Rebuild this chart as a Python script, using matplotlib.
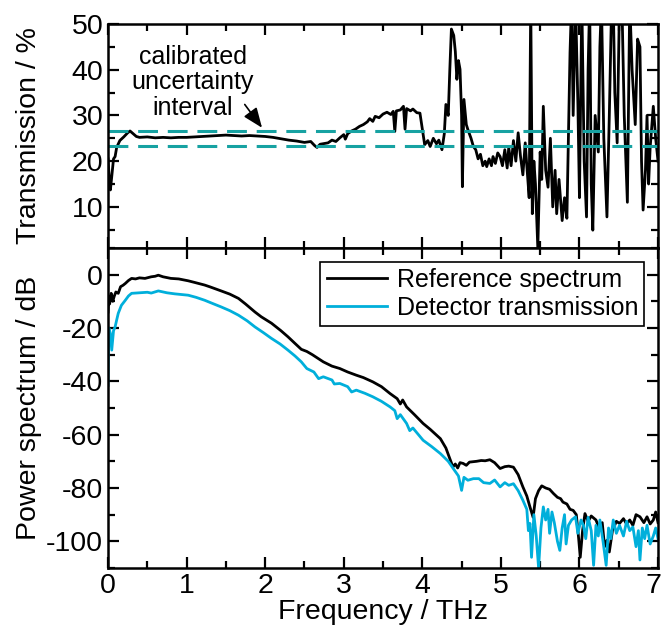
import matplotlib
matplotlib.use("Agg")
import matplotlib.pyplot as plt
from matplotlib.ticker import MultipleLocator
from matplotlib.transforms import ScaledTranslation

plt.rcParams["font.family"] = ["Liberation Sans", "DejaVu Sans"]
plt.rcParams["axes.unicode_minus"] = False

# transmission (top panel)
trans_freq = [
    0.00, 0.02, 0.03, 0.05, 0.07, 0.09, 0.11, 0.15, 0.20, 0.25, 0.28, 0.32, 0.36, 0.40,
    0.50, 0.60, 0.70, 0.80, 0.90, 1.00, 1.10, 1.20, 1.30, 1.40, 1.50, 1.60, 1.70, 1.80,
    1.90, 2.00, 2.10, 2.20, 2.30, 2.40, 2.50, 2.58, 2.63, 2.66, 2.70, 2.80, 2.85, 2.90,
    2.95, 3.00, 3.02, 3.05, 3.10, 3.15, 3.20, 3.25, 3.30, 3.33, 3.37, 3.40, 3.45, 3.50,
    3.55, 3.60, 3.63, 3.65, 3.67, 3.72, 3.76, 3.78, 3.80, 3.85, 3.88, 3.93, 3.97, 4.00,
    4.03, 4.07, 4.10, 4.14, 4.18, 4.21, 4.25, 4.28, 4.30, 4.33, 4.35, 4.37, 4.40, 4.42,
    4.44, 4.46, 4.48, 4.50, 4.51, 4.53, 4.56, 4.58, 4.62, 4.65, 4.68, 4.71, 4.74, 4.77,
    4.80, 4.82, 4.85, 4.88, 4.90, 4.93, 4.96, 4.99, 5.02, 5.05, 5.08, 5.10, 5.13, 5.16,
    5.19, 5.22, 5.25, 5.28, 5.31, 5.33, 5.36, 5.38, 5.40, 5.42, 5.44, 5.47, 5.50, 5.52,
    5.54, 5.57, 5.60, 5.63, 5.66, 5.69, 5.71, 5.74, 5.78, 5.81, 5.84, 5.88, 5.90, 5.92,
    5.95, 5.98, 6.00, 6.03, 6.06, 6.09, 6.11, 6.13, 6.15, 6.17, 6.20, 6.24, 6.26, 6.28,
    6.31, 6.35, 6.38, 6.41, 6.43, 6.45, 6.48, 6.51, 6.54, 6.57, 6.61, 6.64, 6.67, 6.71,
    6.74, 6.77, 6.79, 6.81, 6.84, 6.86, 6.88, 6.90, 6.94, 6.97, 7.00,
]
trans_pct = [
    20.5, 15.0, 13.7, 17.0, 20.5, 21.0, 23.0, 24.5, 25.3, 26.2, 26.6, 26.0, 25.4, 25.2,
    25.3, 25.1, 25.2, 25.1, 25.2, 25.2, 25.3, 25.4, 25.5, 25.6, 25.7, 25.6, 25.5, 25.6,
    25.5, 25.4, 25.2, 24.9, 24.6, 24.4, 24.1, 24.3, 23.4, 23.0, 23.7, 24.0, 24.6, 24.3,
    25.1, 25.8, 24.8, 26.0, 26.6, 27.0, 27.6, 28.0, 28.6, 29.3, 28.7, 29.8, 29.5, 30.3,
    30.7, 30.2, 30.9, 26.5, 31.0, 31.2, 32.0, 27.0, 31.5, 31.0, 31.4, 30.6, 30.5, 27.0,
    23.6, 24.5, 23.2, 25.0, 23.8, 24.6, 22.5, 26.0, 32.4, 30.0, 40.0, 48.9, 47.5, 44.0,
    37.9, 42.0, 40.1, 30.0, 14.4, 33.5, 28.0, 26.9, 25.0, 23.2, 22.5, 20.5, 21.5, 19.0,
    20.0, 18.8, 20.5, 19.0, 21.0, 19.5, 21.8, 21.0, 19.0, 22.5, 18.5, 23.0, 19.0, 24.5,
    20.0, 26.2, 21.0, 17.0, 24.0, 19.0, 12.0, 55.0, 8.5, 20.0, 15.0, 1.0, 22.0, 16.0,
    32.0, 18.0, 14.3, 25.0, 10.0, 18.0, 8.5, 16.0, 7.0, 12.0, 7.5, 43.8, 55.0, 30.0,
    55.0, 32.5, 12.0, 55.0, 20.0, 7.8, 40.0, 55.0, 15.0, 4.9, 30.0, 22.0, 45.0, 55.0,
    25.0, 7.8, 30.0, 55.0, 55.0, 35.0, 24.0, 55.0, 55.0, 30.0, 11.0, 55.0, 40.0, 28.0,
    46.7, 45.0, 20.0, 9.3, 18.0, 30.0, 15.0, 23.0, 32.0, 25.0, 20.0,
]
band_upper = 26.5
band_lower = 23.4

# power spectra (bottom panel)
ref_freq = [
    0.00, 0.01, 0.02, 0.04, 0.06, 0.08, 0.10, 0.13, 0.16, 0.19, 0.22, 0.26, 0.30, 0.35,
    0.40, 0.47, 0.55, 0.60, 0.64, 0.70, 0.80, 0.90, 1.02, 1.10, 1.23, 1.30, 1.44, 1.55,
    1.66, 1.75, 1.87, 1.95, 2.08, 2.20, 2.29, 2.38, 2.46, 2.53, 2.60, 2.74, 2.85, 2.95,
    3.05, 3.16, 3.25, 3.37, 3.48, 3.59, 3.68, 3.72, 3.75, 3.80, 3.90, 4.01, 4.10, 4.23,
    4.30, 4.35, 4.39, 4.42, 4.45, 4.48, 4.52, 4.56, 4.60, 4.69, 4.75, 4.80, 4.86, 4.92,
    4.99, 5.05, 5.10, 5.16, 5.22, 5.28, 5.33, 5.37, 5.41, 5.44, 5.48, 5.52, 5.57, 5.62,
    5.67, 5.72, 5.76, 5.79, 5.84, 5.88, 5.92, 5.96, 5.99, 6.01, 6.04, 6.07, 6.11, 6.15,
    6.21, 6.25, 6.29, 6.32, 6.35, 6.38, 6.42, 6.47, 6.51, 6.56, 6.60, 6.64, 6.68, 6.72,
    6.77, 6.82, 6.86, 6.90, 6.94, 6.97, 7.00,
]
ref_db = [
    -14.0, -8.0, -11.0, -7.0, -10.0, -8.0, -6.5, -7.0, -4.5, -4.0, -3.3, -2.2, -1.4, -1.6,
    -1.2, -1.4, -0.8, -0.6, -0.2, -0.8, -1.4, -1.6, -2.3, -2.9, -3.9, -4.6, -6.1, -7.3,
    -8.9, -11.0, -14.0, -15.8, -18.2, -21.0, -23.3, -25.8, -28.0, -28.8, -30.0, -32.7, -34.3, -35.2,
    -36.5, -37.7, -38.6, -40.2, -42.0, -44.6, -46.5, -48.5, -47.0, -49.6, -52.5, -55.8, -58.0, -61.5,
    -65.0, -69.0, -72.1, -71.0, -72.5, -70.5, -70.8, -71.5, -70.3, -70.0, -69.7, -69.8, -69.4, -70.5,
    -72.7, -72.0, -71.8, -72.2, -75.0, -79.6, -83.0, -87.1, -91.0, -84.0, -81.0, -79.2, -80.0, -80.5,
    -82.1, -83.5, -84.0, -85.3, -86.0, -88.0, -88.4, -90.0, -99.0, -106.0, -96.0, -89.6, -92.5, -90.5,
    -92.0, -95.0, -93.0, -102.0, -99.6, -104.0, -96.0, -92.5, -93.3, -91.5, -93.5, -92.0, -94.0, -90.0,
    -90.8, -93.0, -90.8, -93.5, -92.0, -89.0, -93.0,
]

det_freq = [
    0.00, 0.01, 0.03, 0.047, 0.07, 0.09, 0.11, 0.13, 0.17, 0.22, 0.26, 0.30, 0.40, 0.50,
    0.55, 0.64, 0.75, 0.85, 1.02, 1.12, 1.23, 1.33, 1.44, 1.55, 1.66, 1.77, 1.87, 1.98,
    2.08, 2.19, 2.29, 2.38, 2.46, 2.53, 2.62, 2.68, 2.74, 2.85, 2.88, 2.95, 3.05, 3.10,
    3.16, 3.27, 3.37, 3.48, 3.59, 3.65, 3.68, 3.72, 3.80, 3.84, 3.88, 4.01, 4.12, 4.23,
    4.33, 4.41, 4.46, 4.50, 4.53, 4.58, 4.65, 4.72, 4.78, 4.86, 4.92, 4.99, 5.05, 5.10,
    5.16, 5.22, 5.28, 5.33, 5.35, 5.37, 5.39, 5.42, 5.45, 5.48, 5.51, 5.54, 5.57, 5.60,
    5.62, 5.65, 5.68, 5.72, 5.75, 5.78, 5.81, 5.83, 5.86, 5.90, 5.95, 5.98, 6.02, 6.05,
    6.08, 6.11, 6.15, 6.18, 6.21, 6.24, 6.26, 6.30, 6.34, 6.37, 6.40, 6.43, 6.47, 6.51,
    6.56, 6.60, 6.64, 6.68, 6.72, 6.75, 6.77, 6.80, 6.83, 6.86, 6.90, 6.94, 6.97, 7.00,
]
det_db = [
    -41.5, -20.0, -22.0, -28.3, -21.0, -19.6, -17.0, -14.5, -11.5, -9.6, -8.0, -7.0, -6.8, -6.6,
    -6.9, -6.1, -6.8, -7.2, -7.7, -8.5, -9.6, -10.8, -12.1, -13.5, -15.2, -17.3, -19.6, -21.8,
    -23.9, -26.0, -28.3, -30.5, -32.7, -35.2, -36.5, -39.0, -38.3, -39.5, -41.0, -40.8, -42.0, -44.0,
    -43.3, -44.5, -45.8, -47.5, -49.6, -51.0, -54.0, -52.5, -55.8, -58.5, -57.5, -62.1, -64.5, -67.1,
    -70.0, -73.4, -75.5, -80.9, -76.0, -77.1, -76.5, -76.5, -78.0, -78.3, -77.0, -79.6, -78.0, -79.0,
    -78.4, -81.0, -84.6, -88.0, -96.0, -93.3, -106.0, -90.0, -98.0, -110.0, -95.0, -87.1, -92.0, -88.0,
    -97.0, -89.0, -93.0, -100.0, -103.4, -95.0, -90.0, -101.0, -94.0, -92.0, -90.8, -97.0, -92.0, -94.0,
    -99.0, -91.0, -96.0, -109.0, -94.0, -98.0, -92.0, -100.0, -109.0, -95.0, -99.0, -92.0, -97.0, -94.0,
    -98.0, -92.5, -96.0, -94.6, -102.0, -96.0, -107.0, -95.0, -99.0, -94.0, -101.0, -98.0, -95.0, -99.0,
]

TEAL = "#17a2a2"
BLUE = "#00afdb"
FS = 20.5


def style_axis(ax):
    ax.tick_params(which="both", direction="in", top=True, right=True, width=1.6, labelsize=FS)
    ax.tick_params(which="major", length=8)
    ax.tick_params(which="minor", length=5)
    for sp in ax.spines.values():
        sp.set_linewidth(1.8)
    ax.set_xticks(range(8))
    ax.xaxis.set_minor_locator(MultipleLocator(0.5))
    ax.set_xlim(0, 7)
    ax.yaxis.set_label_coords(-0.12, 0.5)


fig = plt.figure(figsize=(6.64, 6.32), dpi=100)
ax_t = fig.add_axes([0.1627, 0.6076, 0.8283, 0.3544])
ax_b = fig.add_axes([0.1627, 0.1013, 0.8283, 0.5063])

# top: transmission
ax_t.plot(trans_freq, trans_pct, color="black", lw=2.0)
ax_t.axhline(band_upper, color=TEAL, lw=2.2, dashes=(6.5, 3.2))
ax_t.axhline(band_lower, color=TEAL, lw=2.2, dashes=(6.5, 3.2))
ax_t.set_ylim(1, 50)
ax_t.yaxis.set_major_locator(MultipleLocator(10))
ax_t.yaxis.set_minor_locator(MultipleLocator(5))
ax_t.set_ylabel("Transmission / %", fontsize=FS)
style_axis(ax_t)
ax_t.tick_params(labelbottom=False)
ax_t.text(1.08, 37.3, "calibrated\nuncertainty\ninterval", ha="center", va="center",
          fontsize=18, linespacing=1.08)
ax_t.annotate("", xy=(1.96, 27.3), xytext=(1.74, 32.4),
              arrowprops=dict(arrowstyle="-|>,head_length=0.55,head_width=0.22",
                              color="black", lw=1.2, shrinkA=0, shrinkB=0,
                              mutation_scale=22))

# bottom: spectra
ax_b.plot(ref_freq, ref_db, color="black", lw=2.0, label="Reference spectrum")
ax_b.plot(det_freq, det_db, color=BLUE, lw=2.0, label="Detector transmission")
ax_b.set_ylim(-110, 10)
ax_b.yaxis.set_major_locator(MultipleLocator(20))
ax_b.yaxis.set_minor_locator(MultipleLocator(10))
ax_b.set_xlabel("Frequency / THz", fontsize=FS, labelpad=0)
ax_b.set_ylabel("Power spectrum / dB", fontsize=FS)
style_axis(ax_b)
leg = ax_b.legend(loc="upper right", fontsize=18, fancybox=False, edgecolor="black",
                  framealpha=1, handlelength=2.4, borderpad=0.25, labelspacing=0.15,
                  handletextpad=0.4, borderaxespad=0.55)
leg.get_frame().set_linewidth(1.2)

# keep the last x tick label inside the canvas
last = ax_b.get_xticklabels()[-1]
last.set_transform(last.get_transform() + ScaledTranslation(-3 / 72, 0, fig.dpi_scale_trans))

fig.savefig("out.png", dpi=100)
